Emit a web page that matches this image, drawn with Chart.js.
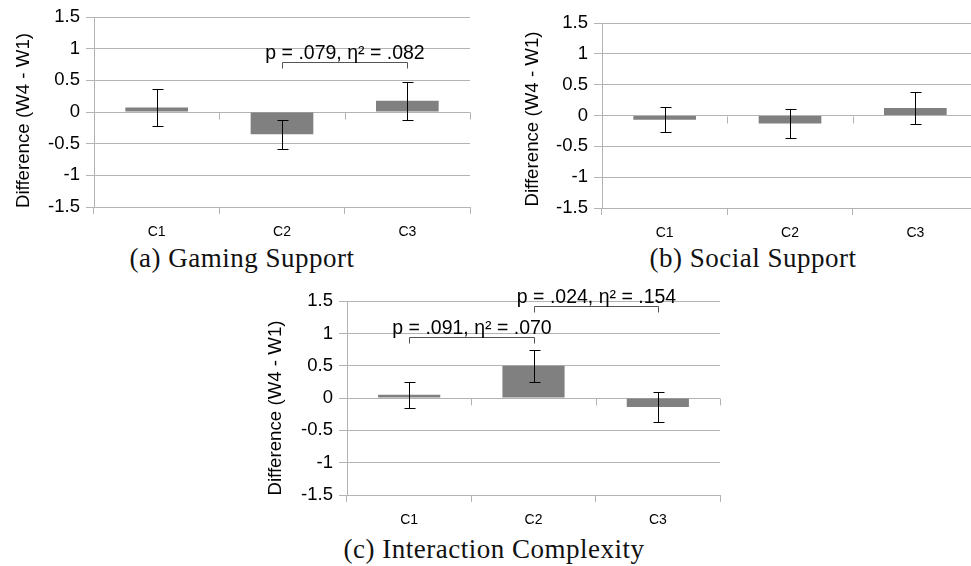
<!DOCTYPE html>
<html>
<head>
<meta charset="utf-8">
<script src="https://cdn.jsdelivr.net/npm/chart.js@4/dist/chart.umd.min.js"></script>
<style>
  html, body { margin: 0; padding: 0; background: #fff; }
  body { position: relative; width: 971px; height: 566px; overflow: hidden; }
  canvas { position: absolute; }
  .caption {
    position: absolute; text-align: center; white-space: nowrap;
    font-family: "Liberation Serif", "DejaVu Serif", serif;
    font-size: 27px; line-height: 27px; letter-spacing: 0.5px; color: #111;
  }
</style>
</head>
<body>
<canvas id="gaming" width="480" height="240" style="left:0px;top:0px;"></canvas>
<canvas id="social" width="480" height="240" style="left:510px;top:0px;"></canvas>
<canvas id="complexity" width="478" height="244" style="left:252px;top:284px;"></canvas>
<div class="caption" style="left:92px;top:245px;width:300px;">(a) Gaming Support</div>
<div class="caption" style="left:603px;top:245px;width:300px;">(b) Social Support</div>
<div class="caption" style="left:294px;top:536px;width:400px;">(c) Interaction Complexity</div>
<script>
// Conditions and tick values shared by all three panels
const categories = ['C1', 'C2', 'C3'];
const yTicks = [-1.5, -1, -0.5, 0, 0.5, 1, 1.5];
const yTitle = 'Difference (W4 - W1)';

// Mean change (W4 - W1) per condition, with error-bar half-widths
const gamingMeans = [0.07, -0.35, 0.18];
const gamingErrors = [0.29, 0.23, 0.30];
const socialMeans = [-0.07, -0.13, 0.12];
const socialErrors = [0.20, 0.23, 0.26];
const complexityMeans = [0.05, 0.50, -0.14];
const complexityErrors = [0.20, 0.25, 0.23];

// Significance brackets: [from condition, to condition, height, label]
const gamingBrackets = [[1, 2, 0.79, 'p = .079, η² = .082']];
const socialBrackets = [];
const complexityBrackets = [
  [0, 1, 0.95, 'p = .091, η² = .070'],
  [1, 2, 1.43, 'p = .024, η² = .154']
];

const AXIS_GRAY = '#b3b3b3';
const SANS = '"Liberation Sans", Arial, sans-serif';

// Draws error bars, significance brackets, the zero-line category ticks and the y-axis title
const extrasPlugin = {
  id: 'extras',
  afterDatasetsDraw(chart, args, opts) {
    const ctx = chart.ctx;
    const xs = chart.scales.x, ys = chart.scales.y;
    const area = chart.chartArea;
    const n = categories.length;
    const y0 = Math.round(ys.getPixelForValue(0)) + 0.5;
    ctx.save();

    // category separators on the zero line
    ctx.strokeStyle = AXIS_GRAY;
    ctx.lineWidth = 1;
    for (let i = 0; i < n; i++) {
      const bx = i + 1 < n
        ? Math.round((xs.getPixelForValue(i) + xs.getPixelForValue(i + 1)) / 2) + 0.5
        : Math.round(area.right) + 0.5;
      ctx.beginPath();
      ctx.moveTo(bx, y0);
      ctx.lineTo(bx, y0 + 7);
      ctx.stroke();
    }

    // error bars
    ctx.strokeStyle = '#000';
    const cap = 5;
    opts.means.forEach((m, i) => {
      const x = Math.round(xs.getPixelForValue(i)) + 0.5;
      const yt = Math.round(ys.getPixelForValue(m + opts.errors[i])) + 0.5;
      const yb = Math.round(ys.getPixelForValue(m - opts.errors[i])) + 0.5;
      ctx.beginPath();
      ctx.moveTo(x, yt); ctx.lineTo(x, yb);
      ctx.moveTo(x - cap, yt); ctx.lineTo(x + cap + 1, yt);
      ctx.moveTo(x - cap, yb); ctx.lineTo(x + cap + 1, yb);
      ctx.stroke();
    });

    // significance brackets
    opts.brackets.forEach(([from, to, level, label]) => {
      const x1 = Math.round(xs.getPixelForValue(from)) + 0.5;
      const x2 = Math.round(xs.getPixelForValue(to)) + 0.5;
      const y = Math.round(ys.getPixelForValue(level)) + 0.5;
      ctx.strokeStyle = '#555';
      ctx.beginPath();
      ctx.moveTo(x1, y + 6); ctx.lineTo(x1, y); ctx.lineTo(x2, y); ctx.lineTo(x2, y + 6);
      ctx.stroke();
      ctx.fillStyle = '#000';
      ctx.font = '19.5px ' + SANS;
      ctx.textAlign = 'center';
      ctx.textBaseline = 'alphabetic';
      ctx.fillText(label, (x1 + x2) / 2, y - 4);
    });

    // rotated y-axis title
    ctx.fillStyle = '#000';
    ctx.font = '18.7px ' + SANS;
    ctx.translate(opts.titleX, (area.top + area.bottom) / 2 + opts.titleShift);
    ctx.rotate(-Math.PI / 2);
    ctx.textAlign = 'center';
    ctx.textBaseline = 'middle';
    ctx.fillText(yTitle, 0, 0);
    ctx.restore();
  }
};

function makePanel(id, means, errors, brackets, frame) {
  return new Chart(document.getElementById(id), {
    type: 'bar',
    data: {
      labels: categories,
      datasets: [{
        data: means,
        backgroundColor: '#808080',
        borderWidth: 0,
        barPercentage: 1.0,
        categoryPercentage: 0.5
      }]
    },
    options: {
      responsive: false,
      animation: false,
      layout: { padding: { top: frame.top, right: frame.right, bottom: 0, left: 0 } },
      plugins: {
        legend: { display: false },
        tooltip: { enabled: false },
        extras: { means: means, errors: errors, brackets: brackets, titleX: frame.titleX, titleShift: frame.titleShift }
      },
      scales: {
        x: {
          offset: true,
          grid: { offset: true, drawOnChartArea: false, drawTicks: true, tickLength: 7, color: AXIS_GRAY, lineWidth: 1 },
          border: { display: true, color: AXIS_GRAY },
          ticks: { color: '#000', font: { family: SANS, size: 14 }, padding: 10, maxRotation: 0 },
          afterFit(s) { s.height = frame.xHeight; }
        },
        y: {
          min: -1.5, max: 1.5,
          afterBuildTicks(s) { s.ticks = yTicks.map(v => ({ value: v })); },
          grid: { color: AXIS_GRAY, lineWidth: 1, drawTicks: true, tickLength: 8 },
          border: { display: true, color: AXIS_GRAY },
          ticks: { color: '#000', font: { family: SANS, size: 18.5 }, padding: 6, callback: v => String(v) },
          title: { display: false },
          afterFit(s) { s.width = frame.yWidth; }
        }
      }
    },
    plugins: [extrasPlugin]
  });
}

makePanel('gaming', gamingMeans, gamingErrors, gamingBrackets,
  { top: 15, right: 10, xHeight: 33, yWidth: 94, titleX: 23.5, titleShift: 8.5 });
makePanel('social', socialMeans, socialErrors, socialBrackets,
  { top: 23, right: 12, xHeight: 32, yWidth: 92, titleX: 22.5, titleShift: 3.5 });
makePanel('complexity', complexityMeans, complexityErrors, complexityBrackets,
  { top: 15, right: 10, xHeight: 33, yWidth: 95, titleX: 23.7, titleShift: 10 });
</script>
</body>
</html>
